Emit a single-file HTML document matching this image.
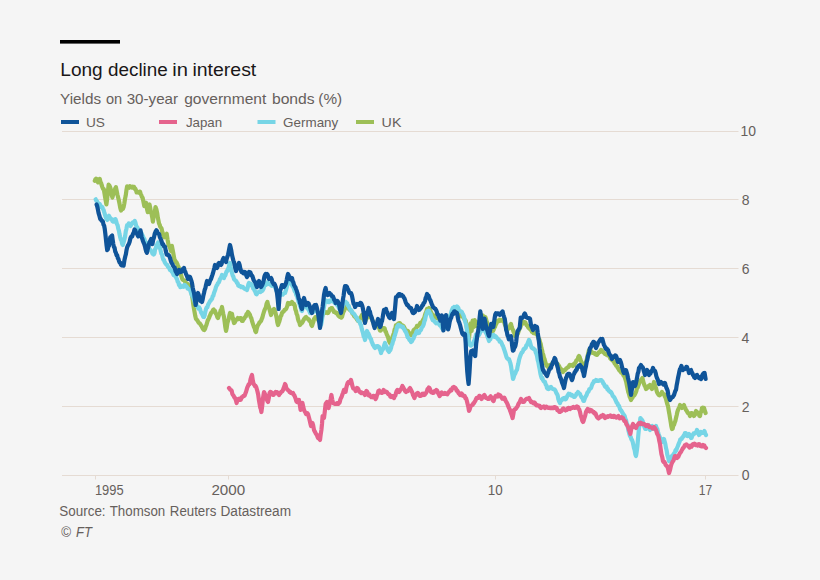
<!DOCTYPE html>
<html><head><meta charset="utf-8">
<style>
html,body{margin:0;padding:0;background:#f5f5f5;}
body{width:820px;height:580px;overflow:hidden;font-family:"Liberation Sans",sans-serif;}
svg{display:block}
text{font-family:"Liberation Sans",sans-serif;}
.g{stroke:#e5dbd3;stroke-width:1;fill:none}
.ln{fill:none;stroke-width:4.2;stroke-linejoin:round;stroke-linecap:round}
</style></head><body>
<svg width="820" height="580" viewBox="0 0 820 580">
<rect width="820" height="580" fill="#f5f5f5"/>
<rect x="60" y="40" width="60" height="3.6" fill="#000"/>
<rect x="61" y="120" width="18" height="4" fill="#0f5499"/>
<rect x="159" y="120" width="18" height="4" fill="#e5638d"/>
<rect x="257.5" y="120" width="18" height="4" fill="#76d5e6"/>
<rect x="356" y="120" width="18" height="4" fill="#9dbf57"/>
<path class="g" d="M62 131.5H738.5M62 199.5H738.5M62 268.5H738.5M62 337.5H738.5M62 406.5H738.5M62 475.5H738.5"/>
<path class="g" d="M95.5 475V479.5M228.5 475V479.5M495.5 475V479.5M705.5 475V479.5"/>
<text x="60.3" y="75.6" textLength="42.4" lengthAdjust="spacingAndGlyphs" style="font-size:18px;fill:#1a1718;">Long</text>
<text x="108.0" y="75.6" textLength="59.8" lengthAdjust="spacingAndGlyphs" style="font-size:18px;fill:#1a1718;">decline</text>
<text x="172.3" y="75.6" textLength="15.7" lengthAdjust="spacingAndGlyphs" style="font-size:18px;fill:#1a1718;">in</text>
<text x="192.4" y="75.6" textLength="63.9" lengthAdjust="spacingAndGlyphs" style="font-size:18px;fill:#1a1718;">interest</text>
<text x="60.1" y="103.8" textLength="41.0" lengthAdjust="spacingAndGlyphs" style="font-size:15px;fill:#66605c;">Yields</text>
<text x="105.9" y="103.8" textLength="16.2" lengthAdjust="spacingAndGlyphs" style="font-size:15px;fill:#66605c;">on</text>
<text x="126.7" y="103.8" textLength="51.4" lengthAdjust="spacingAndGlyphs" style="font-size:15px;fill:#66605c;">30-year</text>
<text x="184.2" y="103.8" textLength="82.1" lengthAdjust="spacingAndGlyphs" style="font-size:15px;fill:#66605c;">government</text>
<text x="271.9" y="103.8" textLength="42.8" lengthAdjust="spacingAndGlyphs" style="font-size:15px;fill:#66605c;">bonds</text>
<text x="318.3" y="103.8" textLength="23.8" lengthAdjust="spacingAndGlyphs" style="font-size:15px;fill:#66605c;">(%)</text>
<text x="86.0" y="126.5" textLength="19.0" lengthAdjust="spacingAndGlyphs" style="font-size:13.5px;fill:#66605c;">US</text>
<text x="185.9" y="126.5" textLength="36.3" lengthAdjust="spacingAndGlyphs" style="font-size:13.5px;fill:#66605c;">Japan</text>
<text x="283.1" y="126.5" textLength="55.2" lengthAdjust="spacingAndGlyphs" style="font-size:13.5px;fill:#66605c;">Germany</text>
<text x="381.6" y="126.5" textLength="19.8" lengthAdjust="spacingAndGlyphs" style="font-size:13.5px;fill:#66605c;">UK</text>
<text x="740.6" y="136" textLength="15.5" lengthAdjust="spacingAndGlyphs" style="font-size:14px;fill:#66605c;">10</text>
<text x="741.7" y="204.6" style="font-size:14px;fill:#66605c;">8</text>
<text x="741.7" y="273.5" style="font-size:14px;fill:#66605c;">6</text>
<text x="741.4" y="342.5" style="font-size:14px;fill:#66605c;">4</text>
<text x="741.7" y="411.5" style="font-size:14px;fill:#66605c;">2</text>
<text x="741.7" y="480.4" style="font-size:14px;fill:#66605c;">0</text>
<text x="94.9" y="495" textLength="28.7" lengthAdjust="spacingAndGlyphs" style="font-size:14px;fill:#66605c;">1995</text>
<text x="211.4" y="495" textLength="33.8" lengthAdjust="spacingAndGlyphs" style="font-size:14px;fill:#66605c;">2000</text>
<text x="487.8" y="495" textLength="14.9" lengthAdjust="spacingAndGlyphs" style="font-size:14px;fill:#66605c;">10</text>
<text x="698.8" y="495" textLength="13.4" lengthAdjust="spacingAndGlyphs" style="font-size:14px;fill:#66605c;">17</text>
<text x="59.3" y="516" textLength="46.3" lengthAdjust="spacingAndGlyphs" style="font-size:14px;fill:#66605c;">Source:</text>
<text x="109.7" y="516" textLength="55.5" lengthAdjust="spacingAndGlyphs" style="font-size:14px;fill:#66605c;">Thomson</text>
<text x="169.8" y="516" textLength="46.5" lengthAdjust="spacingAndGlyphs" style="font-size:14px;fill:#66605c;">Reuters</text>
<text x="220.5" y="516" textLength="70.5" lengthAdjust="spacingAndGlyphs" style="font-size:14px;fill:#66605c;">Datastream</text>
<text x="60.9" y="536.6" textLength="9.9" lengthAdjust="spacingAndGlyphs" style="font-size:14px;fill:#66605c;font-style:italic;">©</text>
<text x="76.0" y="536.6" textLength="15.9" lengthAdjust="spacingAndGlyphs" style="font-size:14px;fill:#66605c;font-style:italic;">FT</text>
<path class="ln" stroke="#9dbf57" d="M94.8 180.7 95.4 179.28 96 178.73 96.6 179 97.35 181.36 98.1 182.4 98.95 181.24 99.8 179 100.5 182.15 101.2 183.4 101.8 185.57 102.4 187.2 103.1 188.92 103.8 189 104.45 193.21 105.1 197.17 105.75 200.88 106.4 204.5 107.13 198.88 107.87 192.16 108.6 184.7 109.3 185.39 110 186.94 110.7 189 111.55 194.14 112.4 197.6 113.1 194.8 113.8 193.48 114.5 191.01 115.2 188.52 115.9 187.2 116.63 190.76 117.36 194.42 118.09 197.3 118.81 200.21 119.54 203.77 120.27 207.96 121 210.5 121.65 209.16 122.3 209.18 122.95 208.86 123.6 207.1 124.3 203.62 125 198.93 125.7 195.67 126.4 190.48 127.1 186.4 127.82 186.73 128.53 187.37 129.25 187.79 129.97 186.24 130.68 187.07 131.4 187.2 132.05 187.56 132.7 186.64 133.35 187 134 186.9 134.65 188.9 135.3 188.71 135.95 190.06 136.6 192.4 137.28 191.75 137.96 192.52 138.64 192.63 139.32 191.78 140 191.6 140.65 193.9 141.3 195.09 141.95 196.94 142.6 197.6 143.45 201.79 144.3 206.2 145.15 205.1 146 202.8 146.6 205.83 147.2 209.97 147.8 212.2 148.65 207.61 149.5 204.5 150.18 207.69 150.86 211.89 151.54 213.94 152.22 217.29 152.9 221.7 153.55 217.1 154.2 214.79 154.85 211.47 155.5 207.1 156.35 209.31 157.2 213.1 157.8 217.5 158.4 220.19 159 223.4 159.65 224.67 160.3 226.99 160.95 227.52 161.6 228.6 162.22 231.57 162.85 233.64 163.47 235.69 164.1 237.2 164.75 236.91 165.4 236.08 166.05 234.52 166.7 233.8 167.55 239.57 168.4 244.1 169.05 245.71 169.7 246.67 170.35 248.92 171 251 171.9 245.9 172.55 249.34 173.2 252.73 173.85 256.35 174.5 259.7 175.18 260.59 175.86 262.08 176.54 262.33 177.22 263.84 177.9 265.7 178.68 267.23 179.45 269.56 180.22 273.54 181 275 181.67 277.04 182.33 279.19 183 280 183.75 280.14 184.5 280.66 185.25 282.15 186 283 186.75 283.98 187.5 283.81 188.25 284.93 189 285 189.67 286.19 190.33 287.76 191 289 191.8 294.58 192.6 299 193.3 304.76 194 309 194.67 312.69 195.33 316.34 196 319 196.75 319.65 197.5 320.56 198.25 321.95 199 323 199.75 323.19 200.5 324.65 201.25 325.62 202 327 202.8 328.69 203.6 329.7 204.4 330 205.05 328.8 205.7 326.6 206.35 325.19 207 323 207.67 320.66 208.33 319.52 209 318 209.67 315.99 210.33 314.86 211 313 211.67 312.51 212.33 311.6 213 310 213.67 309.53 214.33 311.27 215 311 215.75 313.4 216.5 314.35 217.25 316.93 218 318 218.67 315.96 219.33 314.31 220 313 220.67 310.26 221.33 309.84 222 307 222.67 310.78 223.33 314.17 224 317 224.67 321.85 225.33 327.16 226 331 226.67 328.1 227.33 323.39 228 321 228.67 319.3 229.33 315.55 230 313 230.67 313.61 231.33 314.25 232 314 232.67 317.59 233.33 320.25 234 323 234.75 322.47 235.5 320.79 236.25 319.9 237 319 237.75 318.04 238.5 319.18 239.25 318.78 240 318 240.67 318.16 241.33 319.15 242 321 242.75 320.99 243.5 318.39 244.25 318.72 245 317 245.75 316.55 246.5 314.04 247.25 313.88 248 312 248.67 312.83 249.33 313.95 250 315 250.67 317.28 251.33 318.13 252 321 252.67 323.05 253.33 325.06 254 327 254.67 328.33 255.33 331.23 256 332 256.67 328.95 257.33 326.62 258 325 258.75 324.06 259.5 322.32 260.25 321.92 261 321 261.67 319.19 262.33 317.66 263 315 263.67 312.74 264.33 310.54 265 309 265.8 307.65 266.6 303.61 267.4 302 268.07 305.18 268.73 306.52 269.4 309 270.2 311.98 271 315 271.75 312.82 272.5 311.33 273.25 309.75 274 309 274.67 310.34 275.33 312.24 276 315 276.67 317.96 277.33 322.53 278 325 278.67 323.09 279.33 321.4 280 319 280.67 316.11 281.33 315.47 282 313 282.67 312.08 283.33 311.7 284 311 284.67 309.71 285.33 309.62 286 309 286.67 307.54 287.33 305.96 288 303 288.67 303.82 289.33 303.13 290 304 290.67 303.81 291.33 303.66 292 302 292.67 302.78 293.33 304.2 294 304 294.67 305.39 295.33 309.41 296 311 296.67 314.14 297.33 315.39 298 319 298.67 321.12 299.33 322.28 300 325 300.67 324.14 301.33 323.12 302 323 302.67 321.91 303.33 320.52 304 319 304.67 318.76 305.33 317.38 306 317 306.67 318.43 307.33 318.34 308 319 308.67 319.03 309.33 320.92 310 321 310.67 321.81 311.33 324.88 312 326 312.67 323.79 313.33 322.1 314 319 314.67 318.71 315.33 317.12 316 317 316.75 317.67 317.5 318.72 318.25 320.14 319 321 319.67 320.54 320.33 319.55 321 319 321.67 317.58 322.33 315.58 323 313 323.75 312.61 324.5 313.1 325.25 312 326 312 326.67 312.57 327.33 313.03 328 313 328.67 312.04 329.33 310.78 330 309 330.67 309.29 331.33 308.07 332 308 332.67 309.88 333.33 309.99 334 312 334.67 312.14 335.33 312.01 336 313 336.67 312.81 337.33 314.07 338 315 338.67 315.97 339.33 316.51 340 317 340.67 316.97 341.33 317.56 342 317 342.67 314.35 343.33 312.1 344 311 344.75 309.02 345.5 307.92 346.25 306.35 347 305 347.75 306.64 348.5 306.57 349.25 309.47 350 310 350.75 310.59 351.5 311.34 352.25 313.2 353 314 353.75 315.03 354.5 316.73 355.25 316.81 356 318 356.75 319.16 357.5 320.15 358.25 321.06 359 321 359.75 318.87 360.5 317.47 361.25 316.44 362 315 362.75 315.99 363.5 318.82 364.25 320.91 365 322 365.75 320.06 366.5 318.63 367.25 317.49 368 315 368.75 315.3 369.5 315.52 370.25 317.43 371 317 371.75 318.66 372.5 320.34 373.25 322.18 374 325 374.75 325.67 375.5 324.67 376.25 325.11 377 324 377.75 326.05 378.5 326.62 379.25 328.27 380 330.6 380.67 330.6 381.33 329.68 382 329 382.67 328.47 383.33 328.26 384 328 384.67 328.52 385.33 331.24 386 332 386.67 334.28 387.33 335.55 388 337 388.67 339.78 389.33 341.74 390 343 390.67 342.37 391.33 340.72 392 339 392.67 336.37 393.33 334.63 394 333 394.67 329.42 395.33 328.61 396 325 397 325 397.67 324.27 398.33 323.62 399 323 399.75 323.02 400.5 324.06 401.25 325.23 402 325 402.75 325.75 403.5 326 404.25 327.43 405 329 405.67 330.31 406.33 330.39 407 331 407.67 330.8 408.33 331.72 409 333 409.67 334.32 410.33 333.4 411 335 411.67 334.2 412.33 333.53 413 332 413.67 330.05 414.33 329.83 415 329 415.67 328.31 416.33 327.98 417 326 417.67 326.16 418.33 325.81 419 325 419.67 324.47 420.33 322.82 421 323 421.67 322.34 422.33 321.2 423 320 423.67 318.96 424.33 317.54 425 315 425.67 313 426.33 311.85 427 309 427.67 309.53 428.33 309.1 429 308 429.67 308.78 430.33 310.88 431 312 431.67 313.87 432.33 314.54 433 315 433.75 316.22 434.5 315.84 435.25 317.79 436 318 436.75 317.86 437.5 318.2 438.25 318.69 439 318 439.75 317.76 440.5 320.38 441.25 319.4 442 321 442.75 320.29 443.5 322.27 444.25 320.81 445 322 445.75 321.6 446.5 320.96 447.25 319.77 448 320 448.75 318.33 449.5 316.82 450.25 315.61 451 315 451.75 313.34 452.5 312.84 453.25 312.3 454 311 454.75 311.11 455.5 311.28 456.25 312.12 457 312 457.75 313.29 458.5 313.36 459.25 313.58 460 315 460.75 316.26 461.5 315.25 462.25 315.84 463 317 463.68 317.77 464.35 319.25 465.02 319.95 465.7 320.7 466.45 325.34 467.2 330 468 335.64 468.8 339.8 469.8 331 470.6 323.3 471.6 331 472.6 320.7 473.15 324.68 473.7 326.9 474.7 320.2 475.35 322.19 476 325.9 476.55 323.09 477.1 322.2 477.85 323 478.6 323.8 479.3 323.41 480 321.23 480.7 320.7 481.4 318.64 482.1 316.46 482.8 315.5 483.43 316.51 484.05 316.49 484.68 317.4 485.3 317.1 486 319 486.7 321.74 487.4 323.8 488.05 325.08 488.7 327.32 489.35 328.59 490 330 490.75 331.02 491.5 330.24 492.25 331.49 493 331 493.67 329.79 494.33 327.39 495 327 495.67 324.54 496.33 323.8 497 322 497.67 320.79 498.33 321.25 499 321 499.67 319.79 500.33 320.76 501 320 501.67 320.61 502.33 320.39 503 320 503.67 321.3 504.33 322.69 505 325 505.67 326.24 506.33 327.78 507 330 507.67 328.69 508.33 328.78 509 328 509.67 327.3 510.33 325 511 324 511.67 326.7 512.33 328.77 513 330 513.67 332.08 514.33 333.02 515 336 515.67 334.69 516.33 334.89 517 335 517.67 333.89 518.33 332.25 519 330 519.75 328.76 520.5 326.86 521.25 324.74 522 324 522.67 323.82 523.33 321.87 524 322 524.67 322.11 525.33 322.44 526 324 526.67 325.48 527.33 325.65 528 327 528.67 327.92 529.33 328.48 530 329 530.67 329.83 531.33 330.18 532 332 532.75 331.89 533.5 333.14 534.25 332.52 535 333 535.8 333.89 536.6 333.75 537.4 335 538.05 336.93 538.7 339.27 539.35 339.25 540 342 540.67 343.71 541.33 347.54 542 350 542.67 353.26 543.33 354.99 544 358 544.67 359.46 545.33 362.4 546 364 546.67 365.89 547.33 365.17 548 367 548.67 366.17 549.33 365.32 550 365 550.67 364.84 551.33 364.76 552 364 552.65 362.53 553.3 362.39 553.95 361.67 554.6 362 555.4 362.25 556.2 362.36 557 364 557.67 364.14 558.33 365.01 559 366 559.67 367.31 560.33 368.4 561 369 561.67 369.42 562.33 370.27 563 372 563.67 370.53 564.33 370.55 565 370 565.67 369.49 566.33 368.3 567 368 567.67 367.41 568.33 367.06 569 366 569.67 365.05 570.33 365.6 571 365 571.67 365.42 572.33 365.02 573 366 573.67 364.29 574.33 364.8 575 363 575.67 362.33 576.33 360.48 577 360 577.67 359.6 578.33 356.95 579 356 579.67 357.13 580.33 359.36 581 361 581.75 363.03 582.5 365.25 583.25 365.39 584 368 584.67 365.22 585.33 363.04 586 362 586.75 359.78 587.5 356.24 588.25 353.27 589 350 589.67 349.37 590.33 349.82 591 351 591.67 352 592.33 352.82 593 353 593.67 352.88 594.33 352.96 595 354 595.67 353.6 596.33 354.82 597 355 597.67 353.85 598.33 353.2 599 352 599.67 352.13 600.33 350.93 601 350 601.67 350.26 602.33 351.07 603 352 603.67 352.51 604.33 353.1 605 354 605.67 354 606.33 354.6 607 354 607.67 355.37 608.33 354.89 609 356 609.67 356.61 610.33 358.67 611 359 611.75 359.81 612.5 360.5 613.25 360.93 614 362 614.75 363.75 615.5 363.37 616.25 365.9 617 366 617.67 367.79 618.33 368.32 619 370 619.75 370.76 620.5 371.37 621.25 372.62 622 373 622.75 373.71 623.5 375.55 624.25 376.09 625 378 625.67 380.09 626.33 382.53 627 386 627.67 389.3 628.33 392.24 629 394 629.67 396.89 630.33 397.98 631 400 631.67 397.99 632.33 398.05 633 396 633.67 395.79 634.33 395.44 635 394 635.67 392.73 636.33 390.98 637 388 637.67 387.41 638.33 385.6 639 384 639.67 381.69 640.33 381.65 641 380 641.7 379.2 642.4 378 643.2 381.42 644 384 644.67 385.69 645.33 386.8 646 389 646.67 388.61 647.33 387.87 648 387 648.67 385.85 649.33 386.46 650 385 650.67 386.8 651.33 388.01 652 389 652.67 387.46 653.33 385.22 654 382 654.67 384.69 655.33 386.71 656 388 656.67 390.98 657.33 392.93 658 394 658.67 394.81 659.33 395.31 660 395 660.67 394.1 661.33 393.37 662 392 662.67 393.48 663.33 393.92 664 394 664.67 396.09 665.33 397.21 666 399 666.67 401.68 667.33 404.2 668 406 668.67 410.18 669.33 413.79 670 418 670.67 421.91 671.33 426.31 672 429 672.67 428.48 673.33 425.37 674 425 674.67 422.6 675.33 420.97 676 418 676.67 415.23 677.33 412.03 678 410 678.67 408.4 679.33 407.53 680 405 680.67 406.34 681.33 406.83 682 408 682.67 407.31 683.33 405.78 684 405 684.67 407.52 685.33 408.08 686 410 686.67 410.53 687.33 412.23 688 413 688.67 413.2 689.33 414.16 690 416 690.67 414.31 691.33 413.02 692 413 692.67 413.61 693.33 414.77 694 416 694.67 415.09 695.33 413.31 696 411 696.67 412.88 697.33 412.34 698 414 698.67 413.91 699.33 415.71 700 416 700.67 412.38 701.33 411.52 702 408 702.67 407.66 703.33 408.6 704 408 704.8 410.53 705.6 413"/>
<path class="ln" stroke="#76d5e6" d="M95.7 199.3 96.4 200.87 97.1 201.26 97.8 203.6 98.42 204.79 99.05 205.41 99.67 203.97 100.3 205.3 100.95 207.07 101.6 206.66 102.25 207.04 102.9 208.8 103.55 209.89 104.2 212.19 104.85 214.25 105.5 216.6 106.35 218.66 107.2 220 107.8 218.06 108.4 217.87 109 215.7 109.65 217.25 110.3 218.17 110.95 219.16 111.6 219.1 112.45 221.21 113.3 221.7 114.03 221.75 114.77 219.22 115.5 219.1 116.2 221.41 116.9 223.97 117.6 225.2 118.25 228.71 118.9 230.73 119.55 234.33 120.2 237.2 120.85 239.63 121.5 240.64 122.15 243.86 122.8 245 123.65 242.09 124.5 239 125.15 235.98 125.8 231.35 126.45 228.66 127.1 225.2 127.95 225.27 128.8 223.4 129.65 223.89 130.5 226 131.35 224.41 132.2 223.4 132.85 222.3 133.5 222.51 134.15 222.17 134.8 220.9 135.4 222.46 136 225.13 136.6 226.9 137.22 227.3 137.85 228.45 138.47 230.06 139.1 231.2 139.75 231.03 140.4 232.25 141.05 232.54 141.7 233.8 142.35 235.27 143 236.47 143.65 238.3 144.3 239 145 241.16 145.7 242.33 146.4 242.8 147.1 244.14 147.8 245.9 148.48 246.2 149.16 248.2 149.84 249.45 150.52 250.09 151.2 251 151.85 251.9 152.5 253.7 153.15 253.22 153.8 254.5 154.45 253.29 155.1 249.32 155.75 248.28 156.4 245.9 157.25 244.24 158.1 242.4 158.75 243.68 159.4 246.07 160.05 248.32 160.7 251 161.35 253.66 162 254.39 162.65 257.48 163.3 259.7 163.95 259.8 164.6 262.02 165.25 263.01 165.9 264 166.58 264.81 167.26 264.83 167.94 266.81 168.62 267.32 169.3 268.3 169.98 270.15 170.65 269.8 171.32 270.39 172 272 172.75 272.64 173.5 274.97 174.25 275.31 175 276 175.67 276.02 176.33 278.2 177 279 177.67 281.64 178.33 282.24 179 285 179.67 284.74 180.33 287.09 181 287 181.67 286.71 182.33 286.39 183 286 183.67 286.66 184.33 284.94 185 285 185.67 286.04 186.33 286.43 187 287 187.67 288.64 188.33 288.75 189 289 189.67 289.69 190.33 290.73 191 293 191.67 294.58 192.33 296.04 193 297 193.67 298.79 194.33 300.53 195 303 195.65 303.17 196.3 304.15 196.95 306.11 197.6 307 198.4 308.61 199.2 307.35 200 309 200.67 311.19 201.33 312.91 202 314 202.67 315.36 203.33 316.84 204 317 204.67 315.19 205.33 311.68 206 309 206.67 307.38 207.33 307.3 208 305 208.67 303.55 209.33 302.49 210 301 210.67 300.79 211.33 299.17 212 299 212.67 296.28 213.33 295.82 214 293 214.67 291.24 215.33 289.58 216 287 216.67 285.49 217.33 284.83 218 283 218.67 282.63 219.33 281.12 220 279 220.67 278.54 221.33 276.89 222 275 222.67 275.4 223.33 277.08 224 278 224.67 275.56 225.33 275.56 226 273 226.67 271.18 227.33 271.05 228 269 228.67 267.62 229.33 264.23 230 263 230.67 267.05 231.33 270.5 232 273 232.67 275.42 233.33 276.63 234 279 234.75 279.85 235.5 280.67 236.25 281.14 237 283 237.67 283.28 238.33 285.55 239 286 239.75 286.3 240.5 286.21 241.25 287.2 242 287 242.75 286.85 243.5 287.87 244.25 288.5 245 289 245.67 289.34 246.33 289.52 247 290 247.67 287.76 248.33 284.38 249 283 249.65 283.76 250.3 284.98 250.95 283.91 251.6 285 252.4 285.45 253.2 288.43 254 289 254.67 290.88 255.33 291.61 256 294 256.75 294.28 257.5 292.5 258.25 292.23 259 292 259.75 291.27 260.5 292.01 261.25 290.53 262 291 262.75 290.15 263.5 288.82 264.25 285.65 265 285 265.75 285.15 266.5 284.29 267.25 282.52 268 283 268.75 283.84 269.5 284.32 270.25 283.85 271 285 271.75 285.78 272.5 284.82 273.25 285.78 274 286 274.75 286.3 275.5 288.11 276.25 290.48 277 291 277.65 291.42 278.3 292.04 278.95 294.38 279.6 295 280.4 295.18 281.2 293.65 282 294 282.75 294.54 283.5 293.66 284.25 293.1 285 293 286 290 286.67 287.46 287.33 284.25 288 282 288.75 281.76 289.5 283.38 290.25 281.77 291 283 291.75 284.09 292.5 286.18 293.25 287.08 294 289 294.75 291.25 295.5 291.61 296.25 295.19 297 296 297.75 298.75 298.5 301.57 299.25 303.04 300 306 300.67 306.93 301.33 310.3 302 311 302.67 308.34 303.33 305.55 304 304 304.75 304.83 305.5 305.24 306.25 306.07 307 308 307.75 308.72 308.5 309.6 309.25 310.88 310 313 310.75 311.8 311.5 312.6 312.25 312.24 313 312 313.75 311.73 314.5 310.39 315.25 309.77 316 309 316.75 310.53 317.5 312.13 318.25 314.36 319 317 319.67 319.38 320.33 321.51 321 325 321.67 321.86 322.33 317.54 323 313 323.67 308.96 324.33 304.94 325 300 325.75 300.72 326.5 301.59 327.25 300.95 328 302 328.75 301.01 329.5 301.91 330.25 300.91 331 300 331.75 300.91 332.5 300.26 333.25 301.31 334 302 334.75 303.03 335.5 303.43 336.25 303.57 337 305 337.75 305.28 338.5 306.84 339.25 308.68 340 310 340.67 309.88 341.33 307.75 342 308 342.67 306.11 343.33 303.8 344 302 344.75 302.37 345.5 301.65 346.25 302.92 347 303 347.75 305.39 348.5 305.52 349.25 307.75 350 309 350.75 310.62 351.5 310.35 352.25 312.76 353 313 353.75 313.59 354.5 314.58 355.25 315.89 356 317 356.75 317.58 357.5 319.31 358.25 320.84 359 321 359.67 321.76 360.33 324.32 361 325 361.67 328.53 362.33 330.83 363 333 363.67 336.26 364.33 337.25 365 340 365.67 337.73 366.33 333.57 367 331 367.67 332.84 368.33 333.23 369 335 369.67 336.78 370.33 338.57 371 339 371.67 341.85 372.33 343 373 345 373.67 345.35 374.33 347.22 375 348 375.67 347.38 376.33 346.37 377 346 377.67 346 378.33 346.52 379 347 379.67 348.95 380.33 350.27 381 353 381.67 351.01 382.33 350.05 383 349 383.67 347.18 384.33 344.67 385 343 385.67 345.48 386.33 346.27 387 348 387.67 350.2 388.33 350.92 389 352 389.67 350.47 390.33 350.15 391 348 391.67 344.99 392.33 344.01 393 341 393.67 339.84 394.33 336.76 395 335 395.67 332.52 396.33 330.53 397 327 397.67 326.01 398.33 324.91 399 325 399.67 326.32 400.33 325.65 401 326 401.67 326.69 402.33 327.32 403 327 403.67 328.69 404.33 329.42 405 331 405.67 331.53 406.33 333.15 407 335 407.67 337.33 408.33 337.66 409 339 409.67 340.29 410.33 340.18 411 342 411.67 341.56 412.33 340.48 413 339 413.67 338.28 414.33 335.72 415 335 415.67 334.22 416.33 331.67 417 331 417.67 332.06 418.33 331.69 419 333 419.67 331.32 420.33 330.28 421 330 421.67 327.77 422.33 326.94 423 326 423.67 324.44 424.33 321.43 425 320 425.67 316.62 426.33 314.23 427 312 427.67 310.99 428.33 310.77 429 311 429.77 312.98 430.55 314 431.33 316.85 432.1 318.6 432.75 320.1 433.4 320.15 434.05 320.74 434.7 321.7 435.48 322.62 436.25 323.25 437.02 322.59 437.8 323.3 438.43 323.19 439.05 324.43 439.68 325 440.3 325.9 441.07 326.02 441.85 328.09 442.62 328.48 443.4 330 444.05 327.97 444.7 324.6 445.35 322.67 446 320.7 446.74 319.74 447.48 318.96 448.22 318.21 448.96 318.76 449.7 317.6 450.32 314.85 450.95 313.53 451.57 310.99 452.2 309.3 452.85 307.83 453.5 308.53 454.15 306.98 454.8 307.2 455.45 307.69 456.1 306.88 456.75 306.43 457.4 306.7 458.2 307.71 459 310.3 459.67 311.1 460.33 311.1 461 311.4 461.7 311.76 462.4 313.17 463.1 314.5 463.9 316.3 464.7 319.7 465.45 322.62 466.2 324.8 466.8 329.11 467.4 333.1 468.1 336.61 468.8 341.4 469.55 344.27 470.3 345.5 471 345.62 471.7 344.76 472.4 344 473.1 343.18 473.8 341.32 474.5 339.8 475.25 337.98 476 334.7 476.7 334.31 477.4 333.72 478.1 333.1 479 335 479.75 333.58 480.5 331.36 481.25 331.16 482 329 482.75 330.02 483.5 330.1 484.25 330.16 485 331 485.67 332.48 486.33 333.45 487 335 487.67 337.12 488.33 338.81 489 341 489.67 338.82 490.33 339.25 491 337 491.67 335.35 492.33 335.49 493 335 493.67 334.83 494.33 336.93 495 337 495.67 336.35 496.33 337.13 497 338 497.67 338.9 498.33 339.29 499 340 499.67 341.54 500.33 341.36 501 342 501.67 343.34 502.33 345.14 503 346 503.67 348.23 504.33 349.96 505 352 505.67 354.15 506.33 356.57 507 358 507.67 358.72 508.33 359.12 509 359 509.67 361.36 510.33 363.06 511 366 511.67 370.59 512.33 374.51 513 379 513.67 377.34 514.33 374.69 515 374 515.67 372.38 516.33 370.56 517 370 517.67 366.16 518.33 363.52 519 360 519.67 357.66 520.33 355.84 521 354 521.67 352.63 522.33 352.2 523 351 523.67 349.06 524.33 349.14 525 348 525.67 347.88 526.33 345.33 527 345 527.67 343.24 528.33 341.67 529 340 529.67 341.13 530.33 343.58 531 346 531.67 347.6 532.33 348.17 533 348 533.67 349.1 534.33 349.32 535 350 535.67 352.26 536.33 353.67 537 356 537.67 359.95 538.33 362.23 539 366 539.67 369.13 540.33 373.18 541 376 541.67 378.23 542.33 377.99 543 380 543.67 381.2 544.33 381.68 545 382 545.67 384.58 546.33 385.24 547 388 547.67 388.68 548.33 387.76 549 389 549.67 387.38 550.33 387.59 551 387 551.67 388.06 552.33 388.7 553 389 553.67 389.18 554.33 389.33 555 390 555.67 391.32 556.33 393.02 557 394 557.67 395.38 558.33 399.07 559 401 560 403 560.67 401.04 561.33 400.29 562 400 562.67 398.67 563.33 398.32 564 398 564.67 397.94 565.33 399.3 566 399 566.67 397.67 567.33 396.01 568 395 568.67 393.79 569.33 394.59 570 394 570.67 394.78 571.33 395.46 572 395 572.67 395.62 573.33 396.39 574 397 574.67 396.99 575.33 395.89 576 395 576.67 393.4 577.33 393.17 578 392 578.67 393.14 579.33 393.39 580 394 580.67 395.55 581.33 396.91 582 398 582.67 398.2 583.33 400.87 584 401 584.67 398.85 585.33 397.03 586 396 586.67 394.85 587.33 392.71 588 392 588.67 391.26 589.33 389.04 590 389 590.67 388.44 591.33 387.18 592 385 592.67 383.42 593.33 382.78 594 381 594.67 381.12 595.33 381.22 596 380 596.67 380.8 597.33 380.43 598 381 598.67 380.75 599.33 380.72 600 380 600.67 380.24 601.33 380.09 602 381 602.67 381.57 603.33 383.7 604 384 604.67 385.8 605.33 386.85 606 387 606.67 386.73 607.33 389.25 608 389 608.67 390.88 609.33 390.85 610 392 610.67 391.75 611.33 392.63 612 394 612.67 395.54 613.33 396.57 614 397 614.67 398.15 615.33 399.56 616 401 616.67 402.78 617.33 402.95 618 405 618.67 405.36 619.33 406.72 620 409 620.67 410.24 621.33 410.53 622 412 622.67 412.93 623.33 414.31 624 415 624.67 415.9 625.33 418.81 626 420 626.67 423.15 627.33 424.68 628 428 628.67 431.5 629.33 433.89 630 436 630.67 436.72 631.33 439.3 632 440 632.67 441.89 633.33 444.88 634 448 634.67 450.09 635.33 454.17 636 456 636.7 451.73 637.4 446 638.2 436.48 639 428 639.7 423.85 640.4 418 641.2 419.09 642 420 642.67 421.14 643.33 424.07 644 426 644.67 427.6 645.33 428.96 646 429 646.67 428.06 647.33 426.14 648 425 648.67 425.72 649.33 428.42 650 430 650.67 428.34 651.33 426.42 652 426 652.67 427.25 653.33 428.79 654 429 654.67 428.85 655.33 426.83 656 426 656.67 428.19 657.33 429.1 658 432 658.67 434.42 659.33 435.96 660 438 660.67 438.48 661.33 441.64 662 442 662.67 440.88 663.33 440.32 664 439 664.67 441.51 665.33 444.02 666 448 666.67 450.51 667.33 454.85 668 457 669 461 669.67 460.08 670.33 459.41 671 458 671.67 456.25 672.33 455.94 673 455 673.67 454.01 674.33 453.18 675 452 675.67 449.89 676.33 450.22 677 448 677.67 446.51 678.33 444.71 679 443 679.67 441.48 680.33 439.36 681 439 681.67 438.94 682.33 437.34 683 437 683.67 435.66 684.33 434.85 685 433 685.67 433.02 686.33 434.36 687 436 687.67 436.04 688.33 434.76 689 434 689.67 435 690.33 436.31 691 438 691.67 437.84 692.33 435.15 693 435 693.67 433.38 694.33 433.68 695 433 695.67 432.45 696.33 431.98 697 430 697.67 431.37 698.33 433.76 699 435 699.67 434.26 700.33 433.51 701 432 701.67 432.43 702.33 433 703 433 703.7 432.17 704.4 431 705.2 433.31 706 435"/>
<path class="ln" stroke="#e5638d" d="M229 388 229.67 388.74 230.33 389.81 231 390 231.67 390.67 232.33 393.86 233 395 233.67 395.85 234.33 397.28 235 398 235.8 399.85 236.6 403 237.2 400.91 237.8 399.89 238.4 399 239.2 398.71 240 400 240.67 399.83 241.33 398.43 242 397 242.67 396.94 243.33 395.92 244 396 244.67 395.54 245.33 393.63 246 392 246.67 389.65 247.33 387.37 248 386 248.67 384.37 249.33 384.31 250 382 250.67 378.77 251.33 376.57 252 375 252.8 380.45 253.6 384 254.27 384.69 254.93 386.2 255.6 386 256.27 387.22 256.93 389.49 257.6 392 258.27 395.16 258.93 400.12 259.6 404 260.2 407.46 260.8 408.99 261.4 412 262.2 405.99 263 398 264 392 264.67 393.46 265.33 394.91 266 397 266.67 399.11 267.33 400.86 268 402 268.8 398.11 269.6 393 270.3 391.9 271 392 271.67 392.8 272.33 393.39 273 395 273.67 394.92 274.33 393.45 275 393 275.67 391.96 276.33 392.15 277 392 277.67 393.55 278.33 393.05 279 395 279.67 393.61 280.33 393.41 281 392 281.67 391.57 282.33 391.42 283 390 283.67 387.97 284.33 386.44 285 384 285.67 385.27 286.33 388.26 287 389 287.67 389.91 288.33 390.29 289 391 289.67 392.21 290.33 391.97 291 393 291.67 392.89 292.33 393.47 293 393 293.67 394.88 294.33 395.2 295 397 295.67 398.72 296.33 401.32 297 402 297.67 400.92 298.33 401.39 299 400 299.8 404.58 300.6 410 301.2 408.65 301.8 404.37 302.4 403 303.2 406.5 304 410 304.67 411.27 305.33 412.3 306 414 306.67 413.67 307.33 413.21 308 414 308.8 417.01 309.6 420 310.3 423.16 311 426 311.7 423.98 312.4 423 313.2 425.51 314 430 314.67 431.37 315.33 432.52 316 434 316.67 434.46 317.33 436.44 318 438 318.67 438.29 319.33 438.94 320 440 320.7 434.46 321.4 430 322 423.98 322.6 416 323.3 416.91 324 418 324.8 411.53 325.6 404 326.3 402.8 327 402 327.8 405.81 328.6 408 329.3 404.94 330 402 330.7 398.71 331.4 395 332.2 399.36 333 403 333.67 403.31 334.33 403.63 335 404 335.67 403.99 336.33 403.86 337 403 337.67 403.01 338.33 403.85 339 403 339.67 402.24 340.33 399.51 341 398 341.67 396.76 342.33 394.54 343 393 344 390 344.8 391.93 345.6 392 346.3 387.71 347 385 347.7 382.81 348.4 382 349.2 381.7 350 383 351 380 351.7 382.7 352.4 386 353.2 388.32 354 389 354.8 389.01 355.6 391 356.3 389.96 357 388 357.67 388.19 358.33 389.11 359 391 359.67 391.91 360.33 392.07 361 393 361.67 392.45 362.33 393.09 363 393 363.67 393.25 364.33 393.8 365 395 365.7 393.18 366.4 391 367.2 391.62 368 394 368.67 395.42 369.33 394.35 370 396 370.67 396.29 371.33 397.23 372 397 372.67 397.23 373.33 395.8 374 396 374.8 397.28 375.6 399 376.3 397.74 377 395 377.7 393.89 378.4 391 379.2 390.52 380 392 380.8 392.53 381.6 393 382.27 392.74 382.93 391.26 383.6 390 384.3 391.05 385 392 385.67 391.63 386.33 391.82 387 392 387.67 393.49 388.33 394.09 389 394 389.67 394.78 390.33 396.63 391 397 391.67 396.53 392.33 396.02 393 396 394 398 394.67 396 395.33 395.66 396 393 396.7 390.99 397.4 390 398.2 391.23 399 392 399.67 391.17 400.33 389.43 401 389 401.7 387.82 402.4 386 403.2 387.35 404 389 404.67 390.35 405.33 391.41 406 392 406.67 391.38 407.33 390.62 408 391 408.67 390.55 409.33 388.79 410 388 410.8 389.59 411.6 391 412.3 392.63 413 395 413.7 396.3 414.4 398 415.2 395.52 416 395 416.67 393.61 417.33 394.02 418 393 418.67 394.85 419.33 394.95 420 396 420.67 395.94 421.33 395.08 422 394 422.67 395.01 423.33 393.72 424 395 424.67 394.78 425.33 393.72 426 393 426.8 391.55 427.6 389 428.2 389.55 428.8 387.52 429.4 388 430.2 389.53 431 392 431.67 392.48 432.33 392.08 433 393 433.67 392.83 434.33 391.25 435 391 435.7 391.04 436.4 390 437.2 390.82 438 393 438.8 394.38 439.6 396 440.3 395.22 441 393 441.67 392.4 442.33 393.21 443 394 443.67 393.76 444.33 393.92 445 393 446 394 446.67 394.08 447.33 394.31 448 393 448.67 392.49 449.33 391.34 450 391 450.67 389.76 451.33 390.52 452 389 452.67 387.64 453.33 387.94 454 387 454.67 387.68 455.33 387.98 456 389 456.67 390.79 457.33 390.55 458 392 458.67 393.42 459.33 393.82 460 395 460.67 394.71 461.33 393.46 462 394 462.67 395.65 463.33 395.86 464 396 464.67 395.85 465.33 398.12 466 398 466.8 400.75 467.6 404 468.3 406.7 469 411 469.7 409.36 470.4 407 471.2 405.73 472 405 472.67 404.87 473.33 403.23 474 403 474.67 401.6 475.33 400.92 476 399 476.67 397.92 477.33 398.12 478 398 478.67 397.59 479.33 395.81 480 396 480.8 397.51 481.6 399 482.3 397.63 483 397 483.7 395.76 484.4 395 485.2 396.43 486 398 486.67 398.08 487.33 398.55 488 399 488.67 398.89 489.33 398.46 490 397 490.67 396.35 491.33 397.42 492 398 492.8 400.35 493.6 401 494.3 398.69 495 397 495.67 395.93 496.33 396.5 497 396 497.67 396.46 498.33 394.51 499 395 499.67 396.02 500.33 395.49 501 397 501.67 397.4 502.33 398.65 503 398 503.67 398.76 504.33 397.82 505 399 505.67 400.93 506.33 401.87 507 403 507.67 404.66 508.33 406.37 509 408 509.67 409.1 510.33 411.32 511 413 511.8 415.45 512.6 418 513.3 414.44 514 410 514.8 409.3 515.6 409 516.3 408.14 517 407 517.67 406.18 518.33 404.04 519 403 519.67 402.32 520.33 400.36 521 399 521.67 400.7 522.33 401.03 523 402 523.67 401.85 524.33 401.51 525 400 525.67 399.62 526.33 398.9 527 399 527.67 398.74 528.33 398.49 529 398 529.67 399.94 530.33 400.15 531 402 531.67 401.82 532.33 402.18 533 403 533.67 403.37 534.33 402.39 535 403 535.67 404.45 536.33 405.3 537 405 537.67 405.17 538.33 405.68 539 406 539.67 405.89 540.33 407.53 541 408 541.67 407.37 542.33 407.07 543 407 543.67 406.57 544.33 407.5 545 408 545.67 406.74 546.33 406.66 547 407 547.67 407.66 548.33 407.98 549 408 549.67 407.67 550.33 408.18 551 407.6 551.67 408.08 552.33 407.72 553 408 553.67 408.21 554.33 406.99 555 407 556 408 556.67 407.79 557.33 410.05 558 410 558.67 410.84 559.33 411.92 560 412 560.67 411.09 561.33 411.14 562 410 562.67 408.86 563.33 408.38 564 409 564.67 409.72 565.33 410.4 566 409.6 566.67 409.98 567.33 409.52 568 408 568.67 407.94 569.33 408.8 570 409 570.67 407.96 571.33 407.83 572 408 572.67 407.5 573.33 406.89 574 407.6 574.67 407.92 575.33 407.75 576 407 576.67 406.55 577.33 407.66 578 407 578.67 408.97 579.33 409.59 580 412 580.8 415.84 581.6 418 582.3 420.8 583 422 583.7 420.5 584.4 418 585.2 415.67 586 412 586.8 410.28 587.6 409 588.3 409.23 589 411 589.67 411.44 590.33 409.91 591 410 591.67 410.75 592.33 411.08 593 412 593.67 411.82 594.33 413.33 595 413 595.67 413.71 596.33 415.74 597 417 597.67 417.73 598.33 418.46 599 418 599.67 417.06 600.33 417.1 601 416 601.67 416.5 602.33 416.27 603 415 603.67 415.42 604.33 416.13 605 418 605.67 417 606.33 417.27 607 417 607.67 416.25 608.33 416.89 609 416 609.67 415.87 610.33 415.4 611 416 611.67 416.87 612.33 416.35 613 416 613.67 417.04 614.33 416.01 615 417 615.67 417.36 616.33 417.65 617 417 617.67 416.59 618.33 416.01 619 417 619.67 418.28 620.33 417.81 621 418 621.67 417.13 622.33 417.99 623 418 623.67 419.71 624.33 420.85 625 421 625.67 421.66 626.33 424.21 627 425 627.67 426.15 628.33 427.46 629 430 629.7 431.37 630.4 434 631 430.09 631.6 428 632.3 425.62 633 424 633.7 425.31 634.4 427 635.2 426.72 636 428 636.8 425.74 637.6 425 638.3 423.99 639 423 639.67 423.2 640.33 422.8 641 424 641.67 423.33 642.33 424.14 643 424 643.67 423.92 644.33 424.24 645 425 646 426 646.67 425.01 647.33 425.16 648 426 648.67 425.56 649.33 427.12 650 427 650.67 427.26 651.33 427.31 652 428 652.67 428.55 653.33 427.81 654 427 654.67 427.69 655.33 429.07 656 430 656.67 432.28 657.33 434.21 658 435 658.67 437.42 659.33 441.09 660 444 660.7 449.15 661.4 454 662.2 456.93 663 461 663.67 461.96 664.33 461.92 665 463 665.67 464.98 666.33 465.78 667 466 667.67 467.45 668.33 469.98 669 473 670 470 670.67 467.04 671.33 464.48 672 463 672.67 461.48 673.33 460.91 674 459 675 456 675.67 456 676.33 457.42 677 458 677.67 457.31 678.33 456.82 679 455 679.67 453.54 680.33 452.62 681 452 681.67 450.48 682.33 449.46 683 448 683.67 447.73 684.33 446.24 685 445 685.67 444.97 686.33 444.35 687 445 687.67 445.68 688.33 445.7 689 447 689.67 447.62 690.33 445.92 691 446 691.67 446.59 692.33 444.69 693 445 693.67 443.92 694.33 443.71 695 444 695.67 445.12 696.33 444.8 697 445 697.67 445.48 698.33 444.41 699 444 699.67 444.34 700.33 446.03 701 446 701.67 446.38 702.33 445.82 703 445 703.67 446.37 704.33 445.51 705 447 706 448"/>
<path class="ln" stroke="#0f5499" d="M96.6 204.5 97.27 206.53 97.93 209.59 98.6 213.1 99.45 215.89 100.3 219.1 100.95 219.14 101.6 220.81 102.25 220.76 102.9 221.7 103.5 224.69 104.1 225.49 104.7 228.6 105.3 233.42 105.9 239 106.55 245.18 107.2 250.2 107.8 249.31 108.4 246.54 109 245.9 109.65 241.14 110.3 237.2 110.9 237.04 111.5 236.03 112.1 235.5 112.7 240.11 113.3 244.1 113.95 247.1 114.6 247.79 115.25 251.62 115.9 252.8 116.53 255.13 117.15 255.09 117.78 258.17 118.4 258.8 119.05 261.22 119.7 262.77 120.35 262.74 121 264.8 121.65 265.29 122.3 264.61 122.95 265.49 123.6 265.7 124.45 260 125.3 256.2 125.9 254.07 126.5 250.26 127.1 247.6 127.95 245.4 128.8 244.1 129.65 241.74 130.5 238.1 131.35 236.61 132.2 236.4 132.97 233.93 133.73 232.69 134.5 229.5 135.2 230.2 135.9 232.64 136.6 232.9 137.45 234.87 138.3 236.4 139.03 234.95 139.77 232.7 140.5 230.3 141.1 233.47 141.7 237.2 142.35 238.89 143 241.25 143.65 242.73 144.3 244.1 144.95 246.34 145.6 249.18 146.25 251.58 146.9 252.8 147.55 249.63 148.2 247.37 148.85 244.16 149.5 242.4 150.35 240.76 151.2 239 151.8 242.19 152.4 244.1 153.17 239.96 153.93 237.67 154.7 233.8 155.55 231.7 156.4 230.3 157.05 231.23 157.7 232.9 158.35 233.87 159 233.8 159.85 237.1 160.7 239 161.55 241.18 162.4 244.1 163.05 244 163.7 245.79 164.35 246.95 165 246.7 165.85 251.27 166.7 254.5 167.35 254.3 168 255.1 168.65 255.13 169.3 256.2 170.15 258.33 171 261.4 171.65 262.94 172.3 263.8 172.95 265.41 173.6 266.6 174 267 174.75 267.77 175.5 271.12 176.25 272.23 177 274 177.67 272.98 178.33 271.38 179 270 179.67 270.47 180.33 272.15 181 272 181.75 271.61 182.5 269.1 183.25 269.73 184 268 184.67 270.99 185.33 271.82 186 274 186.67 275.18 187.33 277.13 188 279 188.67 278.79 189.33 276.72 190 277 190.67 278.83 191.33 280.68 192 283 192.67 287.31 193.33 290.56 194 293 194.8 298.37 195.6 305 196.4 300.99 197.2 296.24 198 293 198.67 294.82 199.33 297.38 200 300 200.67 301.07 201.33 300.77 202 302 202.67 299.48 203.33 295.63 204 293 204.67 289.89 205.33 288.3 206 285 207 281 207.67 282.43 208.33 283.2 209 284 209.67 281.82 210.33 280.05 211 279 211.67 277 212.33 275.13 213 273 213.67 270.55 214.33 268.02 215 265 215.67 265.57 216.33 267.44 217 268 217.67 266.34 218.33 263.75 219 263 219.67 264.06 220.33 264.59 221 265 221.65 263.88 222.3 260.89 222.95 259.16 223.6 258 224.4 259.9 225.2 259.98 226 262 226.67 258.74 227.33 256.78 228 255 228.67 251.66 229.33 248.24 230 245 230.67 247.63 231.33 250.77 232 255 232.67 257.75 233.33 260.49 234 262 234.67 265.01 235.33 268.43 236 271 236.75 268.67 237.5 267.51 238.25 264.97 239 263 239.67 265.18 240.33 268.57 241 271 241.67 272.11 242.33 271.5 243 273 243.67 273.42 244.33 273.07 245 272 245.67 273.16 246.33 275.65 247 277 247.67 275.92 248.33 273.48 249 272 249.67 272.91 250.33 272.4 251 274 251.67 275.74 252.33 275.87 253 278 253.67 280.22 254.33 281.03 255 282 255.67 283.38 256.33 285.67 257 287 257.67 284.65 258.33 283.53 259 281 259.67 283.14 260.33 284 261 287 261.67 286.03 262.33 284.88 263 283 263.67 280.68 264.33 276.82 265 275 265.67 274.02 266.33 274.55 267 274 267.67 274.7 268.33 277.35 269 279 269.67 278.75 270.33 278.34 271 278 271.67 279.3 272.33 282.07 273 283 273.67 284.21 274.33 283.63 275 285 275.67 286.68 276.33 289.68 277 293 277.8 300.07 278.6 309 279.3 299.3 280 291 280.67 289.3 281.33 287.05 282 285 282.67 285 283.33 286.81 284 287 284.67 285.83 285.33 284.78 286 283 286.67 280.12 287.33 276.74 288 274 288.67 275.08 289.33 277.51 290 279 290.67 279.3 291.33 279.29 292 278 292.67 281.13 293.33 282.24 294 285 294.67 286.15 295.33 286.97 296 289 296.67 290.49 297.33 293.01 298 295 298.67 298.66 299.33 299.48 300 303 300.67 304.34 301.33 307.81 302 309 302.67 304.36 303.33 300.77 304 298 304.67 300.49 305.33 303.53 306 305 306.67 304.63 307.33 304.56 308 303 308.67 303.64 309.33 305.33 310 307 310.67 309.56 311.33 311.8 312 313 312.67 310.05 313.33 307.55 314 306 314.67 305.11 315.33 305.21 316 305 316.67 306.99 317.33 310 318 313 318.67 317.82 319.33 322.91 320 328 320.67 322.9 321.33 317.29 322 311 322.67 306.61 323.33 301.08 324 295 324.8 290.78 325.6 288 326.27 290.98 326.93 293.19 327.6 295 328.27 294.53 328.93 293.57 329.6 293 330.27 294.51 330.93 294.37 331.6 296 332.27 296.22 332.93 296.35 333.6 298 334.27 300.1 334.93 300.34 335.6 303 336.27 301.47 336.93 302.18 337.6 301 338.27 302.7 338.93 304.03 339.6 307 340.3 310.47 341 313 341.67 308.98 342.33 304 343 299 343.67 295.3 344.33 289.77 345 286 345.67 286.83 346.33 286.15 347 287 347.67 288.87 348.33 289.91 349 292 349.67 293.04 350.33 293.1 351 293 351.67 294.75 352.33 297.53 353 301 353.67 303.97 354.33 304.32 355 307 355.67 306.23 356.33 304.52 357 304 357.67 304.41 358.33 304.16 359 305 359.67 304.93 360.33 302.85 361 303 361.67 304.38 362.33 306.01 363 309 363.67 312.83 364.33 317.93 365 323 365.67 319.05 366.33 316.27 367 313 367.8 311.5 368.6 308 369.27 310.66 369.93 311.68 370.6 315 371.27 316.33 371.93 318.46 372.6 321 373.27 322.93 373.93 325.76 374.6 328 375.27 325.41 375.93 324.79 376.6 323 377.3 321.58 378 319 378.67 321.53 379.33 324.2 380 327 380.67 326 381.33 322.55 382 321 382.67 317.46 383.33 313.41 384 310 384.67 310.51 385.33 310.33 386 309 386.67 311.77 387.33 312.3 388 315 388.67 316.09 389.33 317.5 390 318 390.67 316.45 391.33 314.58 392 313 392.67 315.27 393.33 316.91 394 319 394.67 312.19 395.33 304.86 396 297 397 297 397.67 295.51 398.33 295.93 399 294 399.67 293.98 400.33 295.6 401 295 401.67 294.81 402.33 295.97 403 296 403.67 297.39 404.33 298.1 405 300 405.67 302.22 406.33 303.42 407 305 407.67 304.79 408.33 305.91 409 307 409.67 307.83 410.33 307.83 411 308 411.67 309.94 412.33 311.97 413 313 413.67 313.16 414.33 312.41 415 312 415.67 309.73 416.33 309 417 306 417.67 308.06 418.33 308.76 419 310 419.67 309.51 420.33 308.26 421 308 421.67 306.78 422.33 305.47 423 305 423.67 302.98 424.33 302.61 425 301 425.67 297.82 426.33 296.8 427 294 427.67 295.23 428.33 295.28 429 297 429.68 299.27 430.37 300.19 431.05 302.16 431.73 304.08 432.42 305.45 433.1 307.2 433.88 307.72 434.65 308.51 435.43 308.93 436.2 310.3 436.85 312.04 437.5 314.37 438.15 314.46 438.8 316.6 439.55 318.32 440.3 320.7 441.1 317.49 441.9 315.5 442.65 322.35 443.4 330.5 444.05 325.67 444.7 322.8 445.35 318.62 446 315 446.55 318.78 447.1 322.8 448.1 329.5 448.9 326.43 449.7 321.7 450.45 319.21 451.2 317.6 452 314.73 452.8 313.4 453.47 313.72 454.13 311.44 454.8 311.4 455.5 312.67 456.2 312.36 456.9 312.9 457.65 316.53 458.4 320.7 459.2 322.33 460 324.8 460.8 327.96 461.6 331 462.35 333.56 463.1 334.7 463.73 333.72 464.37 333.66 465 334.1 465.7 343.4 466.4 357.9 467.3 372 467.95 378.92 468.6 384 469.5 372 470.3 358 471.2 351 471.9 351.13 472.6 350.5 473.3 352.68 474 353.5 474.6 355.1 475.2 356 476.2 343.4 476.85 338.86 477.5 334 478.15 331.08 478.8 325.9 479.55 318.51 480.3 311.4 481.1 316.33 481.9 320.7 482.9 329 483.7 324.27 484.5 318.6 485.25 321.75 486 325.9 486.77 328.64 487.55 331.18 488.33 334.14 489.1 336.2 489.8 331.71 490.5 328.4 491.2 323.8 491.9 324 492.6 325.54 493.3 326.9 493.97 322.96 494.63 318.17 495.3 314.5 495.95 313.26 496.6 314.48 497.25 313.32 497.9 313.4 498.55 314.02 499.2 313.66 499.85 314.86 500.5 314.5 501.2 313.18 501.9 312.26 502.6 311.4 503.3 314.54 504 316.68 504.7 318.6 505.45 323.88 506.2 330 506.85 331.88 507.5 335.4 508.15 336.58 508.8 339.3 509.5 338.62 510.2 336.45 510.9 336.2 511.57 340.27 512.23 346.18 512.9 350.7 513.55 350.3 514.2 347.43 514.85 347.23 515.5 345.5 516.2 341.59 516.9 335.04 517.6 331 518.3 330.33 519 328.79 519.7 327.9 520.7 317.6 521.4 318.58 522.1 318.06 522.8 317.6 523.47 316.63 524.13 314.38 524.8 313.4 525.5 315.03 526.2 317.1 526.9 317.6 527.67 317.98 528.45 318.03 529.23 318.25 530 318.6 531 325 531.67 326.92 532.33 328.08 533 330 533.67 328.42 534.33 327.42 535 326 535.67 326.6 536.33 327.57 537 327 537.67 332.62 538.33 337.1 539 342 539.67 348.91 540.33 354.12 541 360 541.67 363.06 542.33 367.26 543 370 543.67 370.76 544.33 372.59 545 373 545.67 373.46 546.33 375.11 547 376 547.67 373.97 548.33 372.47 549 370 549.67 369.41 550.33 367.97 551 368 551.67 365.07 552.33 364.43 553 362 553.8 360.79 554.6 358 555.27 358.82 555.93 361.79 556.6 363 557.27 366.01 557.93 368.09 558.6 372 559.27 373.52 559.93 376.68 560.6 378 561.27 379.71 561.93 382.16 562.6 384 563.3 385.88 564 388 564.67 384.18 565.33 380.82 566 378 566.67 376.97 567.33 374.57 568 374 568.67 373.77 569.33 373.77 570 375 570.67 375.67 571.33 378.58 572 380 572.67 378.23 573.33 375.11 574 374 574.67 372.18 575.33 371.81 576 370 576.67 369.89 577.33 367.4 578 367 578.67 365.81 579.33 365.46 580 365 580.67 366.6 581.33 366.54 582 368 582.67 371.07 583.33 372.69 584 376 584.67 372.49 585.33 368.72 586 366 586.67 361.95 587.33 359.62 588 356 588.67 354.24 589.33 351.44 590 348 590.67 347.6 591.33 346.13 592 344 592.67 343.17 593.33 341.78 594 342 594.67 343.68 595.33 346.47 596 348 596.67 346.34 597.33 345.15 598 343 598.67 342.06 599.33 341.23 600 340 600.8 338.97 601.6 339.23 602.4 339 603.2 342.48 604 345 604.67 346.14 605.33 347.85 606 349 606.67 348.37 607.33 350.05 608 350 608.67 352.11 609.33 354.2 610 355 611 356 612 359 612.67 357.92 613.33 356.7 614 357 614.67 356.89 615.33 355.46 616 356 616.67 357.41 617.33 360.21 618 362 618.67 361.95 619.33 361.66 620 360 620.67 361.7 621.33 363.82 622 367 622.67 368.99 623.33 371.63 624 373 624.67 372.6 625.33 370.05 626 370 626.67 372.3 627.33 374.63 628 378 628.67 380.89 629.33 383.83 630 388 631 395 631.67 390.6 632.33 386.38 633 382 633.67 382.45 634.33 383.82 635 386 635.67 384.25 636.33 381.19 637 378 637.67 373.71 638.33 372.06 639 368 639.67 367.38 640.33 366.22 641 365 641.67 366.52 642.33 366.68 643 368 643.67 370.54 644.33 372.57 645 375 645.67 372.79 646.33 371.37 647 370 647.67 370.85 648.33 373.3 649 375 649.67 373.14 650.33 373.54 651 372 651.67 370.96 652.33 369.87 653 368 653.67 369.83 654.33 370.69 655 371 655.67 373.04 656.33 376.08 657 378 657.67 379.37 658.33 381.47 659 384 659.67 382.35 660.33 383.49 661 382 661.67 383.31 662.33 382.99 663 384 663.67 384.65 664.33 384.2 665 383 665.67 385.43 666.33 387.55 667 389 667.67 390.77 668.33 395.13 669 397 670 400 670.67 399.11 671.33 397.6 672 397 672.67 397.14 673.33 396 674 395 674.67 392.95 675.33 390.78 676 390 676.67 385.32 677.33 381.88 678 378 678.67 374.85 679.33 371.61 680 369 680.7 367.83 681.4 366 682.2 368.31 683 370 683.67 369.19 684.33 369.25 685 369 685.67 368.64 686.33 366.82 687 367 687.67 369.29 688.33 370.24 689 373 689.67 372.5 690.33 370.34 691 370 691.67 372.19 692.33 372.88 693 375 693.67 375.89 694.33 377.43 695 378 695.67 377.42 696.33 375.24 697 375 697.67 376.46 698.33 376.67 699 378 699.67 377.42 700.33 378.67 701 379 701.67 377.28 702.33 375.14 703 374 703.8 373.17 704.6 373 705.6 379"/>
</svg>
</body></html>
